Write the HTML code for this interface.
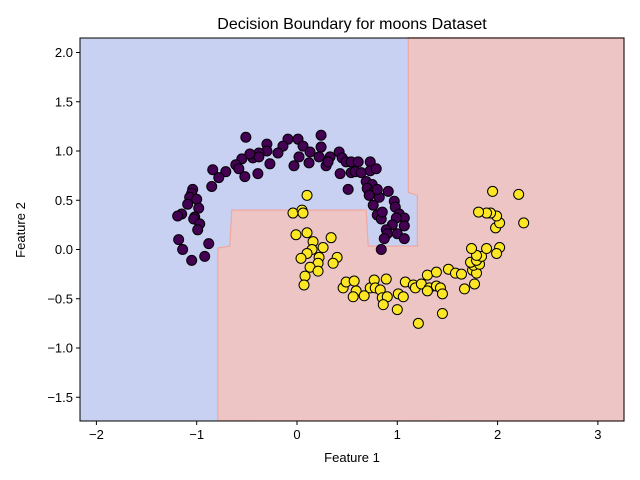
<!DOCTYPE html>
<html><head><meta charset="utf-8"><style>
body{margin:0;background:#fff;}
svg{display:block;font-family:"Liberation Sans","DejaVu Sans",sans-serif;}
</style></head><body>
<svg id="chart" width="640" height="480" xmlns="http://www.w3.org/2000/svg">
<rect width="640" height="480" fill="#fff"/>
<g id="plot"></g>
<text x="352" y="29" text-anchor="middle" font-size="16" fill="#000">Decision Boundary for moons Dataset</text>
<text x="352" y="462" text-anchor="middle" font-size="13" fill="#000">Feature 1</text>
<text x="0" y="0" transform="translate(25,230) rotate(-90)" text-anchor="middle" font-size="13" fill="#000">Feature 2</text>
</svg>
<script>
const xTicks=[-2,-1,0,1,2,3];
const yTicks=[-1.5,-1.0,-0.5,0.0,0.5,1.0,1.5,2.0];
const boundaryX=[-0.79,-0.79,-0.67,-0.65,0.69,0.71,1.20,1.20,1.11,1.11];
const boundaryY=[-1.74,0.015,0.035,0.40,0.40,0.035,0.035,0.55,0.58,2.15];
const class0X=[-0.51,-0.30,-0.09,0.01,0.24,-0.14,0.06,0.24,0.13,-0.19,-0.30,-0.38,-0.44,-0.38,-0.47,-0.55,-0.61,-0.58,-0.27,-0.39,-0.52,-0.71,-0.78,-0.84,-0.85,-1.04,-1.05,-1.07,-1.00,-1.09,-0.98,-1.02,-1.03,-0.97,-0.99,-1.15,-1.19,-1.18,-1.14,-1.05,-0.92,-0.88,0.02,-0.03,0.12,0.22,0.29,0.33,0.42,0.45,0.49,0.54,0.61,0.73,0.31,0.43,0.54,0.58,0.64,0.73,0.79,0.51,0.69,0.75,0.70,0.77,0.79,0.82,0.91,0.72,0.76,0.80,0.84,0.85,0.97,0.98,1.02,1.07,0.99,1.07,0.95,0.89,0.90,0.87,1.00,1.07,0.84,0.80];
const class0Y=[1.14,1.07,1.12,1.12,1.16,1.05,1.05,1.04,0.99,0.98,1.00,0.98,0.93,0.94,0.97,0.92,0.86,0.82,0.87,0.77,0.74,0.79,0.73,0.81,0.64,0.61,0.57,0.53,0.51,0.46,0.42,0.33,0.31,0.26,0.20,0.36,0.34,0.10,0.00,-0.11,-0.07,0.06,0.94,0.85,0.88,0.94,0.85,0.94,0.99,0.93,0.89,0.89,0.89,0.89,0.89,0.77,0.78,0.79,0.78,0.80,0.82,0.61,0.69,0.66,0.62,0.59,0.57,0.53,0.59,0.55,0.45,0.35,0.31,0.38,0.49,0.43,0.36,0.32,0.32,0.24,0.25,0.20,0.16,0.11,0.16,0.11,0.00,0.61];
const class1X=[0.10,-0.04,0.05,0.06,-0.01,0.10,0.16,0.34,0.26,0.15,0.10,0.04,0.22,0.21,0.13,0.40,0.36,0.21,0.08,0.07,0.46,0.49,0.57,0.59,0.56,0.67,0.73,0.77,0.78,0.83,0.89,0.85,0.90,0.86,1.01,1.06,1.00,1.08,1.16,1.18,1.24,1.32,1.30,1.39,1.43,1.45,1.30,1.39,1.51,1.58,1.64,1.45,1.21,1.67,1.77,1.75,1.79,1.76,1.82,1.73,1.79,1.84,1.79,1.74,1.89,2.02,1.99,1.98,2.02,1.99,1.93,1.89,1.81,1.95,2.21,2.26];
const class1Y=[0.55,0.37,0.40,0.37,0.15,0.17,0.08,0.12,0.02,0.00,-0.04,-0.09,-0.08,-0.14,-0.18,-0.08,-0.14,-0.22,-0.27,-0.36,-0.39,-0.33,-0.32,-0.42,-0.48,-0.47,-0.39,-0.31,-0.39,-0.41,-0.30,-0.49,-0.48,-0.56,-0.45,-0.48,-0.61,-0.33,-0.36,-0.39,-0.35,-0.39,-0.42,-0.37,-0.39,-0.45,-0.26,-0.23,-0.20,-0.24,-0.25,-0.65,-0.75,-0.40,-0.35,-0.21,-0.24,-0.16,-0.15,-0.13,-0.11,-0.07,-0.06,0.01,0.01,0.02,-0.04,0.22,0.27,0.34,0.37,0.37,0.38,0.59,0.56,0.27];

const L=80,R=624,T=38,B=421;
const X=v=>297+v*100.3;
const Y=v=>249.5-v*98.5;
const NS='http://www.w3.org/2000/svg';
const svg=document.getElementById('chart');
const plot=document.getElementById('plot');
function mk(tag,attrs,parent){const e=document.createElementNS(NS,tag);for(const k in attrs)e.setAttribute(k,attrs[k]);(parent||plot).appendChild(e);return e;}

let bg=mk('rect',{x:L,y:T,width:R-L,height:B-T,fill:'#c8d1f2'});


let pts=boundaryX.map((v,i)=>X(v).toFixed(1)+','+Y(boundaryY[i]).toFixed(1));
pts.push(R+','+T); pts.push(R+','+B);
let red=mk('polygon',{points:pts.join(' '),fill:'#eec5c5',stroke:'#f0a8a0','stroke-width':1.2});



function dot(x,y,c,name){
  const e=mk('circle',{cx:X(x),cy:Y(y),r:5,fill:c,stroke:'#000','stroke-width':1});
  
  
}
class0X.forEach((v,i)=>dot(v,class0Y[i],'#440154','class-0-point'));
class1X.forEach((v,i)=>dot(v,class1Y[i],'#fde725','class-1-point'));

let frame=mk('rect',{x:L,y:T,width:R-L,height:B-T,fill:'none',stroke:'#000','stroke-width':1},svg);


xTicks.forEach(t=>{
  const x=X(t);
  const l=mk('line',{x1:x,x2:x,y1:B,y2:B+4,stroke:'#000'},svg);
  
  
  const tx=mk('text',{x:x,y:B+18,'text-anchor':'middle','font-size':13},svg);
  tx.textContent=(t<0?'\u2212'+(-t):t);
  
  
});
yTicks.forEach(t=>{
  const y=Y(t);
  const l=mk('line',{x1:L-4,x2:L,y1:y,y2:y,stroke:'#000'},svg);
  
  
  const tx=mk('text',{x:L-7,y:y+4.5,'text-anchor':'end','font-size':13},svg);
  tx.textContent=(t<0?'\u2212'+(-t).toFixed(1):t.toFixed(1));
  
  
});
</script>
</body></html>
